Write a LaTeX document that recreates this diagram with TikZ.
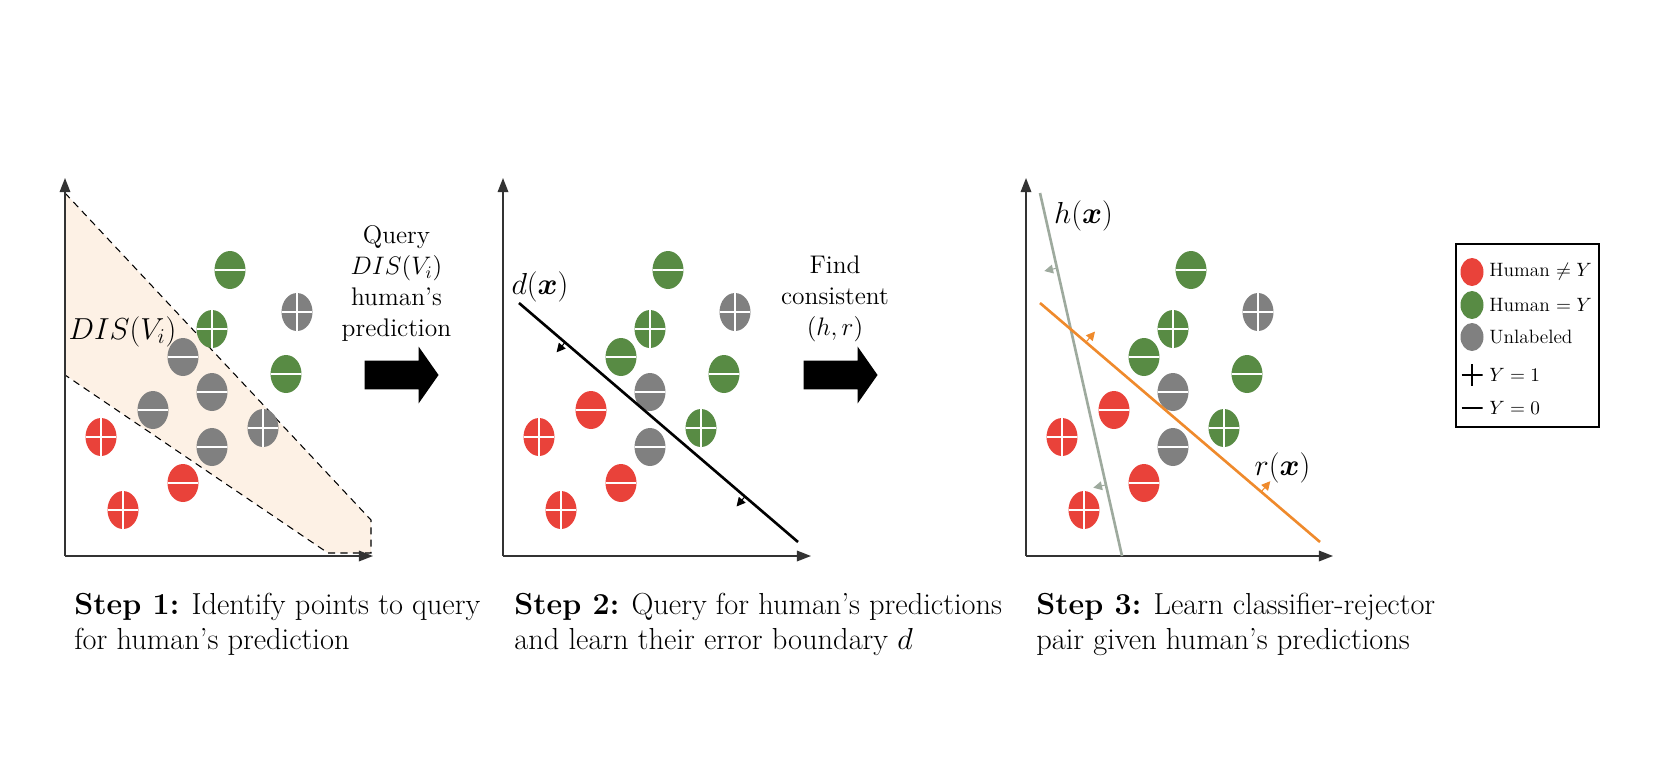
\documentclass[tikz,border=0pt]{standalone}
\usepackage{bm}
\usetikzlibrary{shapes.geometric,shapes.arrows,arrows.meta,calc}
\definecolor{hred}{HTML}{E9423A}
\definecolor{hgreen}{HTML}{588B44}
\definecolor{hgray}{HTML}{808080}
\definecolor{peach}{HTML}{FDF1E5}
\definecolor{hline}{HTML}{9EAA9E}
\definecolor{rline}{HTML}{EF8A2C}
\definecolor{axisc}{HTML}{333333}
\begin{document}
\begin{tikzpicture}[x=1cm,y=1cm,font=\fontsize{16}{19.5}\selectfont,
  dot/.style={ellipse, inner sep=0pt, minimum width=0.62cm, minimum height=0.76cm},
  hwrong/.style={dot, fill=hred},
  hright/.style={dot, fill=hgreen},
  unlab/.style={dot, fill=hgray},
  ptplus/.style={path picture={\draw[line width=1pt,#1] (path picture bounding box.north) -- (path picture bounding box.south) (path picture bounding box.west) -- (path picture bounding box.east);}},
  ptplus/.default=white,
  ptminus/.style={path picture={\draw[line width=1pt,#1] (path picture bounding box.west) -- (path picture bounding box.east);}},
  ptminus/.default=white,
  axisline/.style={draw=axisc, line width=0.9pt, -{Triangle[length=8pt,width=6pt]}},
  region/.style={draw=black, line width=0.6pt, dash pattern=on 4pt off 3pt, fill=peach},
  bigarrow/.style={single arrow, fill=black, inner xsep=0pt, inner ysep=0.28cm, minimum height=1.48cm, single arrow head extend=0.28cm, single arrow tip angle=110},
  arrtxt/.style={font=\fontsize{14.5}{17.6}\selectfont, align=center, anchor=south, inner sep=0pt},
  steptxt/.style={font=\fontsize{17.3}{20.2}\selectfont, anchor=north west, align=left, inner sep=0pt},
  bndlabel/.style={font=\fontsize{16.5}{19}\selectfont, inner sep=0pt},
  bndline/.style={line width=1.5pt},
  normarr/.style={line width=0.6pt, -{Triangle[length=5pt,width=5pt]}},
  legtxt/.style={font=\fontsize{11}{13}\selectfont, anchor=west, inner sep=0pt},
  legkey/.style={inner sep=0pt, minimum width=0.46cm, minimum height=0.56cm}]
\useasboundingbox (0,0) rectangle (33.08,-15.24);

% step 1: disagreement region
\begin{scope}
\draw[region] (1.30,-3.86) -- (7.42,-10.40) -- (7.42,-11.06) -- (6.56,-11.06) -- (1.30,-7.50) -- cycle;
\coordinate (o1) at (1.30,-11.12);
\coordinate (ya1) at (1.30,-3.56);
\coordinate (xa1) at (7.46,-11.12);
\draw[axisline] (o1) -- (ya1);
\draw[axisline] (o1) -- (xa1);
\node[font=\fontsize{17}{20}\selectfont, inner sep=0pt] (dis) at (2.45,-6.63) {$DIS(V_i)$};
\node[hright, ptminus] (a1) at (4.60,-5.40) {};
\node[unlab, ptplus] (a2) at (5.94,-6.24) {};
\node[hright, ptplus] (a3) at (4.24,-6.58) {};
\node[unlab, ptminus] (a4) at (3.66,-7.14) {};
\node[hright, ptminus] (a5) at (5.72,-7.48) {};
\node[unlab, ptminus] (a6) at (4.24,-7.84) {};
\node[unlab, ptminus] (a7) at (3.06,-8.20) {};
\node[hwrong, ptplus] (a8) at (2.02,-8.74) {};
\node[unlab, ptplus] (a9) at (5.26,-8.56) {};
\node[unlab, ptminus] (a10) at (4.24,-8.94) {};
\node[hwrong, ptminus] (a11) at (3.66,-9.66) {};
\node[hwrong, ptplus] (a12) at (2.46,-10.20) {};
\node[bigarrow] (arr1) at (7.93,-7.50) {};
\node[arrtxt] (q1) at (7.93,-6.84) {Query\\$DIS(V_i)$\\human's\\prediction};
\node[steptxt] (s1) at (1.48,-11.85) {\textbf{Step 1:} Identify points to query\\for human's prediction};
\end{scope}

% step 2: error boundary d
\begin{scope}[xshift=8.76cm]
\coordinate (o2) at (1.30,-11.12);
\coordinate (ya2) at (1.30,-3.56);
\coordinate (xa2) at (7.46,-11.12);
\draw[axisline] (o2) -- (ya2);
\draw[axisline] (o2) -- (xa2);
\node[hright, ptminus] (b1) at (4.60,-5.40) {};
\node[unlab, ptplus] (b2) at (5.94,-6.24) {};
\node[hright, ptplus] (b3) at (4.24,-6.58) {};
\node[hright, ptminus] (b4) at (3.66,-7.14) {};
\node[hright, ptminus] (b5) at (5.72,-7.48) {};
\node[unlab, ptminus] (b6) at (4.24,-7.84) {};
\node[hwrong, ptminus] (b7) at (3.06,-8.20) {};
\node[hwrong, ptplus] (b8) at (2.02,-8.74) {};
\node[hright, ptplus] (b9) at (5.26,-8.56) {};
\node[unlab, ptminus] (b10) at (4.24,-8.94) {};
\node[hwrong, ptminus] (b11) at (3.66,-9.66) {};
\node[hwrong, ptplus] (b12) at (2.46,-10.20) {};
\coordinate (d1) at (1.62,-6.06);
\coordinate (d2) at (7.20,-10.84);
\draw[bndline] (d1) -- (d2) coordinate[pos=0.165] (dm1) coordinate[pos=0.81] (dm2);
\coordinate (dt1) at ($(dm1)!0.26cm!-90:(d2)$);
\coordinate (dt2) at ($(dm2)!0.26cm!-90:(d2)$);
\draw[normarr] (dm1) -- (dt1);
\draw[normarr] (dm2) -- (dt2);
\node[bndlabel] (dlab) at (2.04,-5.74) {$d(\bm{x})$};
\node[bigarrow] (arr2) at (7.95,-7.50) {};
\node[arrtxt] (q2) at (7.94,-6.84) {Find\\consistent\\$(h,r)$};
\node[steptxt] (s2) at (1.52,-11.85) {\textbf{Step 2:} Query for human's predictions\\and learn their error boundary $d$};
\end{scope}

% step 3: classifier h and rejector r
\begin{scope}[xshift=19.22cm]
\coordinate (o3) at (1.30,-11.12);
\coordinate (ya3) at (1.30,-3.56);
\coordinate (xa3) at (7.44,-11.12);
\draw[axisline] (o3) -- (ya3);
\draw[axisline] (o3) -- (xa3);
\node[hright, ptminus] (c1) at (4.60,-5.40) {};
\node[unlab, ptplus] (c2) at (5.94,-6.24) {};
\node[hright, ptplus] (c3) at (4.24,-6.58) {};
\node[hright, ptminus] (c4) at (3.66,-7.14) {};
\node[hright, ptminus] (c5) at (5.72,-7.48) {};
\node[unlab, ptminus] (c6) at (4.24,-7.84) {};
\node[hwrong, ptminus] (c7) at (3.06,-8.20) {};
\node[hwrong, ptplus] (c8) at (2.02,-8.74) {};
\node[hright, ptplus] (c9) at (5.26,-8.56) {};
\node[unlab, ptminus] (c10) at (4.24,-8.94) {};
\node[hwrong, ptminus] (c11) at (3.66,-9.66) {};
\node[hwrong, ptplus] (c12) at (2.46,-10.20) {};
\coordinate (h1) at (1.58,-3.86);
\coordinate (h2) at (3.22,-11.12);
\draw[bndline, hline] (h1) -- (h2) coordinate[pos=0.207] (hm1) coordinate[pos=0.804] (hm2);
\coordinate (ht1) at ($(hm1)!0.26cm!-90:(h2)$);
\coordinate (ht2) at ($(hm2)!0.26cm!-90:(h2)$);
\draw[normarr, hline] (hm1) -- (ht1);
\draw[normarr, hline] (hm2) -- (ht2);
\coordinate (r1) at (1.58,-6.06);
\coordinate (r2) at (7.18,-10.84);
\draw[bndline, rline] (r1) -- (r2) coordinate[pos=0.164] (rm1) coordinate[pos=0.79] (rm2);
\coordinate (rt1) at ($(rm1)!0.28cm!90:(r2)$);
\coordinate (rt2) at ($(rm2)!0.28cm!90:(r2)$);
\draw[normarr, rline] (rm1) -- (rt1);
\draw[normarr, rline] (rm2) -- (rt2);
\node[bndlabel] (hlab) at (2.45,-4.32) {$h(\bm{x})$};
\node[bndlabel] (rlab) at (6.43,-9.36) {$r(\bm{x})$};
\node[steptxt] (s3) at (1.50,-11.85) {\textbf{Step 3:} Learn classifier-rejector\\pair given human's predictions};
\end{scope}

% legend
\node[draw, line width=0.7pt, minimum width=2.86cm, minimum height=3.66cm, inner sep=0pt] (leg) at (30.55,-6.71) {};
\node[legkey, ellipse, fill=hred] (lk1) at (29.44,-5.44) {};
\node[legkey, ellipse, fill=hgreen] (lk2) at (29.44,-6.10) {};
\node[legkey, ellipse, fill=hgray] (lk3) at (29.44,-6.74) {};
\node[legkey, minimum width=0.42cm, minimum height=0.44cm, ptplus={black,line width=1.1pt}] (lk4) at (29.44,-7.50) {};
\node[legkey, minimum width=0.42cm, minimum height=0.44cm, ptminus={black,line width=1.1pt}] (lk5) at (29.44,-8.16) {};
\node[legtxt] (lt1) at (29.78,-5.44) {Human $\neq Y$};
\node[legtxt] (lt2) at (29.78,-6.10) {Human $= Y$};
\node[legtxt] (lt3) at (29.78,-6.74) {Unlabeled};
\node[legtxt] (lt4) at (29.78,-7.50) {$Y=1$};
\node[legtxt] (lt5) at (29.78,-8.16) {$Y=0$};
\end{tikzpicture}
\end{document}
